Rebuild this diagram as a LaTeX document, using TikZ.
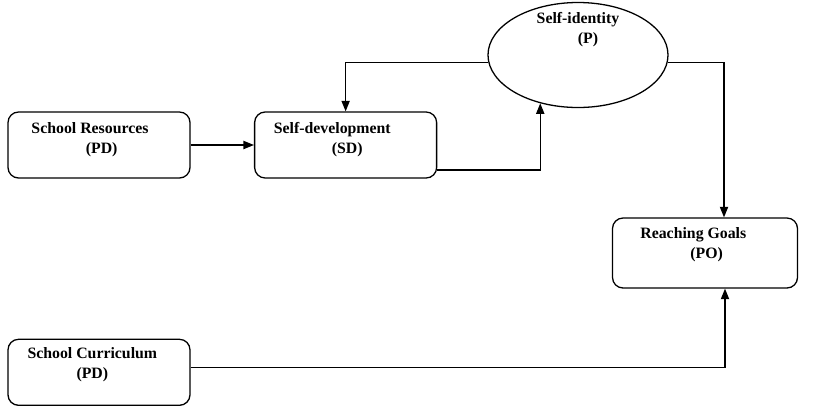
\documentclass[tikz,border=0pt]{standalone}
\usepackage{fontspec}
\setmainfont{Liberation Serif}
\usetikzlibrary{arrows.meta, positioning, shapes.geometric}

\tikzset{
  block/.style={draw, line width=1.1pt, rounded corners=9pt,
                minimum width=5.46cm, minimum height=1.98cm},
  oval/.style={draw, line width=1.1pt, ellipse,
               minimum width=5.4cm, minimum height=3.15cm},
  tag/.style={align=center, font=\fontsize{13.5}{17}\selectfont\bfseries},
  link/.style={-{Triangle[length=9pt,width=7pt]}, line width=1.1pt}
}

\begin{document}
\begin{tikzpicture}[x=0.03cm, y=-0.03cm]
  \useasboundingbox (0,0) rectangle (814,407);

  \node (sr) [block] at (99,145) {};
  \node (sd) [block, right=1.9cm of sr] {};
  \node (sc) [block, below=4.8cm of sr] {};
  \node (p) [oval] at (578,55) {};
  \node (rg) [block, minimum width=5.55cm, minimum height=2.1cm] at (705,253) {};

  % texts
  \node (sr-t) [tag] at ([xshift=-0.27cm, yshift=0.15cm]sr.center) {School Resources\\\hspace*{0.7cm}(PD)};
  \node (sd-t) [tag] at ([xshift=-0.4cm, yshift=0.15cm]sd.center) {Self-development\\\hspace*{0.9cm}(SD)};
  \node (sc-t) [tag] at ([xshift=-0.2cm, yshift=0.24cm]sc.center) {School Curriculum\\(PD)};
  \node (p-t) [tag] at ([yshift=0.75cm]p.center) {Self-identity\\\hspace*{0.6cm}(P)};
  \node (rg-t) [tag] at ([xshift=-0.35cm, yshift=0.24cm]rg.center) {Reaching Goals\\\hspace*{0.8cm}(PO)};

  \draw [link] (sr) -- (sd);
  \draw [link] ([yshift=-0.75cm]sd.east) -| (p.232);
  \draw [link] (p.185) -| (sd.north);
  \draw [link] (p.-5) -| ([xshift=0.57cm]rg.north);
  \draw [link] ([yshift=0.15cm]sc.east) -| ([xshift=0.6cm]rg.south);
\end{tikzpicture}
\end{document}
